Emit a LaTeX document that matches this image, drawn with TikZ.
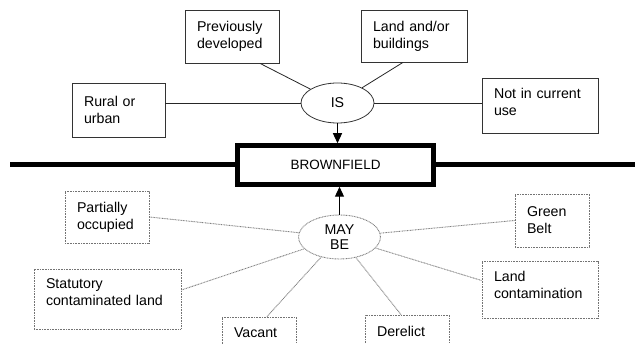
\documentclass[tikz,border=0pt]{standalone}
\usepackage{fontspec}
\setmainfont{Liberation Sans}
\usepackage{tikz}
\usetikzlibrary{shapes.geometric, arrows.meta}
\tikzset{
    testo/.style = {font=\fontsize{14.2}{17}\selectfont, text=black},
    scatola/.style = {testo, rectangle, draw=black!80, line width=0.8pt, align=left, inner xsep=12pt},
    scatolapunti/.style = {testo, rectangle, draw=black!55, line width=0.9pt, dash pattern=on 0.9pt off 0.7pt, align=left, inner xsep=12pt},
    ovale/.style = {testo, ellipse, draw=black!80, line width=0.8pt, inner sep=0pt, align=center},
    ovalepunti/.style = {testo, ellipse, draw=black!50, line width=0.9pt, dash pattern=on 0.9pt off 0.7pt, inner sep=0pt, align=center},
    centrale/.style = {font=\fontsize{13.5}{16}\selectfont, rectangle, draw, line width=4.5pt, minimum width=196pt, minimum height=39pt},
    conn/.style = {draw=black!85, line width=0.8pt},
    connpunti/.style = {draw=black!50, line width=0.9pt, dash pattern=on 0.9pt off 0.7pt},
    freccia/.style = {line width=1.2pt, -{Triangle[length=10pt, width=9pt]}}
}
\begin{document}
\begin{tikzpicture}[x=1pt, y=-1pt]
    %Parametri
    \pgfmathsetmacro{\linea}{164.5}
    \useasboundingbox (0,0) rectangle (635,344);
    \clip (0,0) rectangle (635,344);
    % Riquadro centrale e linea spessa
    \node[centrale] (bf) at (335.5,165) {BROWNFIELD};
    \coordinate (sx) at (10,\linea);
    \coordinate (dx) at (640,\linea);
    \draw[line width=4.5pt] (sx) -- (bf.west |- sx);
    \draw[line width=4.5pt] (bf.east |- dx) -- (dx);
    % Parte sopra: IS
    \node[ovale, minimum width=73pt, minimum height=40pt] (is) at (337.5,103) {IS};
    \node[scatola, text width=70pt, minimum height=53pt] (prev) at (232,36.5) {Previously\\developed};
    \node[scatola, text width=82pt, minimum height=52pt] (land) at (414,36) {Land and/or\\buildings};
    \node[scatola, text width=69pt, minimum height=54pt] (rural) at (118.5,110) {Rural or\\urban};
    \node[scatola, text width=92pt, minimum height=55pt] (notuse) at (540,105.5) {Not in current\\use\\[-9pt]~};
    \draw[conn] ([xshift=28pt]prev.south) -- (is);
    \draw[conn] ([xshift=-11pt]land.south) -- (is);
    \draw[conn] (rural.east |- is) -- (is);
    \draw[conn] (is) -- (notuse.west |- is);
    \draw[freccia] (is.south) -- (is.south |- bf.north);
    % Parte sotto: MAY BE
    \node[ovalepunti, minimum width=82pt, minimum height=44pt] (maybe) at (339.5,237) {MAY\\[-2pt]BE};
    \node[scatolapunti, text width=60pt, minimum height=52pt] (partial) at (107,217) {Partially\\occupied};
    \node[scatolapunti, text width=123pt, minimum height=60pt] (stat) at (107.5,299) {Statutory\\contaminated land\\[-3pt]~};
    \node[scatolapunti, text width=50pt, minimum height=32pt] (vacant) at (259,333) {Vacant};
    \node[scatolapunti, text width=60pt, minimum height=32pt] (derelict) at (407,331) {Derelict};
    \node[scatolapunti, text width=50pt, minimum height=53pt] (green) at (552,220.5) {Green\\Belt};
    \node[scatolapunti, text width=92pt, minimum height=57pt] (landc) at (540,289.5) {Land\\contamination\\[-8pt]~};
    \draw[connpunti] (partial.east) -- (maybe);
    \draw[connpunti] ([yshift=9pt]stat.east) -- (maybe);
    \draw[connpunti] ([xshift=8pt]vacant.north) -- (maybe);
    \draw[connpunti] ([xshift=-6pt]derelict.north) -- (maybe);
    \draw[connpunti] (green.west) -- (maybe);
    \draw[connpunti] ([yshift=9pt]landc.west) -- (maybe);
    \draw[freccia] (maybe.north) -- (maybe.north |- bf.south);
\end{tikzpicture}
\end{document}
